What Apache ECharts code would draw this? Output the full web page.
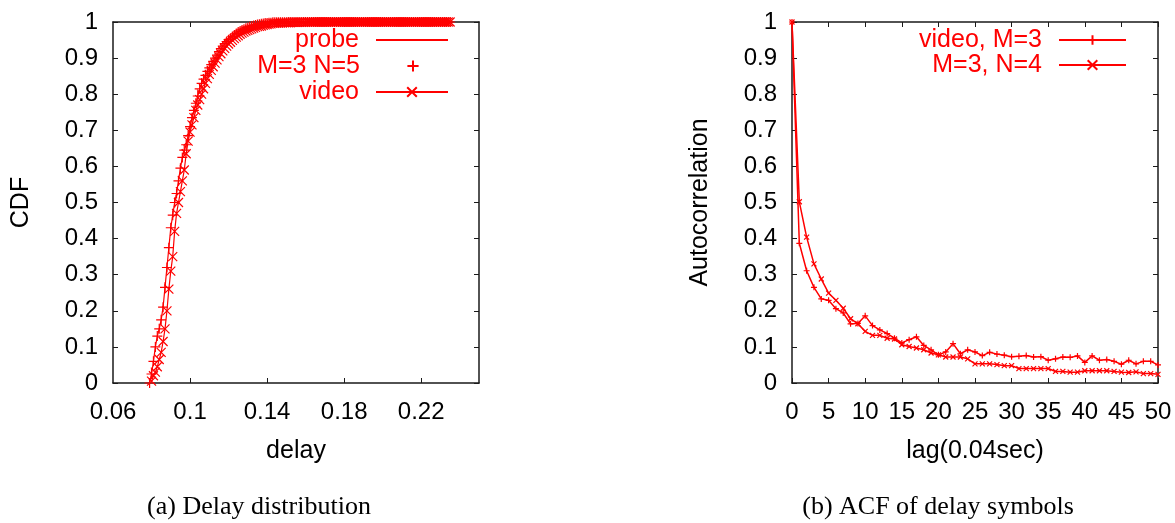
<!DOCTYPE html>
<html>
<head>
<meta charset="utf-8">
<title>Delay distribution / ACF of delay symbols</title>
<script src="https://cdn.jsdelivr.net/npm/echarts@6/dist/echarts.min.js"></script>
<style>
html, body { margin: 0; padding: 0; background: #ffffff; }
#chart { width: 1175px; height: 523px; }
</style>
</head>
<body>
<div id="chart"></div>
<script>
// (a) delay CDF, one bin per ms
const delays = [
  0.079, 0.080, 0.081, 0.082, 0.083, 0.084, 0.085, 0.086, 0.087, 0.088,
  0.089, 0.090, 0.091, 0.092, 0.093, 0.094, 0.095, 0.096, 0.097, 0.098,
  0.099, 0.100, 0.101, 0.102, 0.103, 0.104, 0.105, 0.106, 0.107, 0.108,
  0.109, 0.110, 0.111, 0.112, 0.113, 0.114, 0.115, 0.116, 0.117, 0.118,
  0.119, 0.120, 0.121, 0.122, 0.123, 0.124, 0.125, 0.126, 0.127, 0.128,
  0.129, 0.130, 0.131, 0.132, 0.133, 0.134, 0.135, 0.136, 0.137, 0.138,
  0.139, 0.140, 0.141, 0.142, 0.143, 0.144, 0.145, 0.146, 0.147, 0.148,
  0.149, 0.150, 0.151, 0.152, 0.153, 0.154, 0.155, 0.156, 0.157, 0.158,
  0.159, 0.160, 0.161, 0.162, 0.163, 0.164, 0.165, 0.166, 0.167, 0.168,
  0.169, 0.170, 0.171, 0.172, 0.173, 0.174, 0.175, 0.176, 0.177, 0.178,
  0.179, 0.180, 0.181, 0.182, 0.183, 0.184, 0.185, 0.186, 0.187, 0.188,
  0.189, 0.190, 0.191, 0.192, 0.193, 0.194, 0.195, 0.196, 0.197, 0.198,
  0.199, 0.200, 0.201, 0.202, 0.203, 0.204, 0.205, 0.206, 0.207, 0.208,
  0.209, 0.210, 0.211, 0.212, 0.213, 0.214, 0.215, 0.216, 0.217, 0.218,
  0.219, 0.220, 0.221, 0.222, 0.223, 0.224, 0.225, 0.226, 0.227, 0.228,
  0.229, 0.230, 0.231, 0.232, 0.233, 0.234, 0.235
];
const probeCdf = [
  0, 0.025, 0.06, 0.10, 0.13, 0.15, 0.175, 0.21, 0.265, 0.32,
  0.375, 0.43, 0.465, 0.50, 0.525, 0.56, 0.595, 0.625, 0.645, 0.66,
  0.685, 0.71, 0.735, 0.755, 0.775, 0.795, 0.815, 0.83, 0.842, 0.852,
  0.863, 0.873, 0.882, 0.891, 0.90, 0.908, 0.918, 0.926, 0.933, 0.94,
  0.946, 0.951, 0.955, 0.96, 0.964, 0.968, 0.972, 0.975, 0.978, 0.98,
  0.983, 0.985, 0.987, 0.989, 0.99, 0.992, 0.993, 0.994, 0.995, 0.996,
  0.997, 0.997, 0.998, 0.998, 0.999, 0.999, 0.999, 0.999, 0.999, 0.999,
  0.999, 0.999, 1, 1, 1, 1, 1, 1, 1, 1,
  1, 1, 1, 1, 1, 1, 1, 1, 1, 1,
  1, 1, 1, 1, 1, 1, 1, 1, 1, 1,
  1, 1, 1, 1, 1, 1, 1, 1, 1, 1,
  1, 1, 1, 1, 1, 1, 1, 1, 1, 1,
  1, 1, 1, 1, 1, 1, 1, 1, 1, 1,
  1, 1, 1, 1, 1, 1, 1, 1, 1, 1,
  1, 1, 1, 1, 1, 1, 1, 1, 1, 1,
  1, 1, 1, 1, 1, 1, 1
];
// the M=3 N=5 points sit on the probe line
const m3n5Cdf = probeCdf;
const videoCdf = [
  null, 0.005, 0.02, 0.03, 0.045, 0.065, 0.085, 0.115, 0.15, 0.20,
  0.26, 0.31, 0.35, 0.42, 0.47, 0.50, 0.53, 0.56, 0.59, 0.635,
  0.67, 0.695, 0.715, 0.735, 0.755, 0.77, 0.785, 0.80, 0.815, 0.83,
  0.843, 0.855, 0.866, 0.876, 0.886, 0.895, 0.904, 0.912, 0.92, 0.927,
  0.933, 0.939, 0.944, 0.949, 0.954, 0.958, 0.962, 0.966, 0.969, 0.972,
  0.975, 0.977, 0.979, 0.981, 0.983, 0.985, 0.987, 0.988, 0.989, 0.991,
  0.992, 0.993, 0.994, 0.995, 0.996, 0.996, 0.997, 0.997, 0.998, 0.998,
  0.998, 0.998, 0.998, 0.998, 0.999, 0.999, 0.999, 0.999, 0.999, 0.999,
  0.999, 0.999, 1, 1, 1, 1, 1, 1, 1, 1,
  1, 1, 1, 1, 1, 1, 1, 1, 1, 1,
  1, 1, 1, 1, 1, 1, 1, 1, 1, 1,
  1, 1, 1, 1, 1, 1, 1, 1, 1, 1,
  1, 1, 1, 1, 1, 1, 1, 1, 1, 1,
  1, 1, 1, 1, 1, 1, 1, 1, 1, 1,
  1, 1, 1, 1, 1, 1, 1, 1, 1, 1,
  1, 1, 1, 1, 1, 1, 1
];
const delayTicks = [0.06, 0.1, 0.14, 0.18, 0.22];

// (b) autocorrelation vs lag
const lags = [
  0, 1, 2, 3, 4, 5, 6, 7, 8, 9, 10, 11, 12, 13, 14, 15, 16, 17, 18, 19, 20,
  21, 22, 23, 24, 25, 26, 27, 28, 29, 30, 31, 32, 33, 34, 35, 36, 37, 38, 39, 40,
  41, 42, 43, 44, 45, 46, 47, 48, 49, 50
];
const videoM3Acf = [
  1.0, 0.387, 0.311, 0.265, 0.233, 0.229, 0.206, 0.194, 0.164, 0.165, 0.186,
  0.159, 0.147, 0.137, 0.124, 0.111, 0.120, 0.128, 0.104, 0.092, 0.078,
  0.086, 0.109, 0.081, 0.092, 0.086, 0.076, 0.085, 0.080, 0.077, 0.073,
  0.074, 0.076, 0.072, 0.073, 0.063, 0.067, 0.072, 0.071, 0.075, 0.057,
  0.075, 0.063, 0.065, 0.060, 0.052, 0.063, 0.053, 0.060, 0.060, 0.050
];
const m3n4Acf = [
  1.0, 0.502, 0.404, 0.330, 0.288, 0.249, 0.229, 0.207, 0.178, 0.164, 0.143,
  0.132, 0.132, 0.124, 0.122, 0.106, 0.101, 0.097, 0.092, 0.083, 0.078,
  0.072, 0.072, 0.072, 0.067, 0.053, 0.053, 0.053, 0.051, 0.048, 0.048,
  0.040, 0.040, 0.040, 0.040, 0.040, 0.032, 0.032, 0.030, 0.030, 0.034,
  0.034, 0.034, 0.034, 0.032, 0.030, 0.029, 0.031, 0.026, 0.026, 0.024
];

const RED = '#ff0000';
const INK = '#1a1a1a';
const SANS = '"Liberation Sans", Arial, sans-serif';
const SERIF = '"Liberation Serif", "Times New Roman", serif';
const PLUS = 'path://M0,5L10,5M5,0L5,10';
const CROSS = 'path://M0,0L10,10M10,0L0,10';

function pairs(xs, ys) {
  return xs.map((x, i) => [x, ys[i]]);
}

const boxLine = { show: true, onZero: false, lineStyle: { color: INK, width: 1.5 } };
const tickIn = { show: true, inside: true, length: 5, lineStyle: { color: INK, width: 1 } };
const tickLabel = { color: '#000', fontFamily: SANS, fontSize: 24 };
const nameFont = { color: '#000', fontFamily: SANS, fontSize: 25 };

// bottom/left axis carries labels, top/right mirror just draws the box + ticks
function xAxes(grid, min, max, extra, name) {
  const main = Object.assign({
    type: 'value', gridIndex: grid, position: 'bottom', min: min, max: max,
    axisLine: boxLine, splitLine: { show: false },
    axisTick: Object.assign({}, tickIn),
    axisLabel: Object.assign({ margin: 17 }, tickLabel),
    name: name, nameLocation: 'middle', nameGap: 56, nameTextStyle: nameFont
  }, extra.main);
  const mirror = Object.assign({
    type: 'value', gridIndex: grid, position: 'top', min: min, max: max,
    axisLine: boxLine, splitLine: { show: false },
    axisTick: Object.assign({}, tickIn), axisLabel: { show: false }
  }, extra.mirror);
  return [main, mirror];
}

function yAxes(grid, name) {
  return [{
    type: 'value', gridIndex: grid, position: 'left', min: 0, max: 1, interval: 0.1,
    axisLine: boxLine, splitLine: { show: false }, axisTick: tickIn,
    axisLabel: Object.assign({ margin: 15 }, tickLabel),
    name: name, nameLocation: 'middle', nameRotate: 90, nameGap: 79, nameTextStyle: nameFont
  }, {
    type: 'value', gridIndex: grid, position: 'right', min: 0, max: 1, interval: 0.1,
    axisLine: boxLine, splitLine: { show: false }, axisTick: tickIn, axisLabel: { show: false }
  }];
}

function legendAt(item, right, top, width, iconH) {
  return {
    data: [item], right: right, top: top, orient: 'vertical', align: 'right',
    padding: 0, itemWidth: width, itemHeight: iconH || 12, selectedMode: false,
    textStyle: { color: RED, fontFamily: SANS, fontSize: 25, lineHeight: 26, padding: [0, 12, 0, 0] }
  };
}

const markStyle = { color: 'none', borderColor: RED, borderWidth: 1.2 };

const delayTickCustom = { customValues: [0.1, 0.14, 0.18, 0.22] };

const option = {
  animation: false,
  backgroundColor: '#ffffff',
  grid: [
    { left: 113, right: 696, top: 22, bottom: 140 },
    { left: 792, right: 17, top: 22, bottom: 140 }
  ],
  xAxis: [].concat(
    xAxes(0, 0.06, 0.25, {
      main: {
        axisTick: Object.assign({}, tickIn, delayTickCustom),
        axisLabel: Object.assign({ margin: 17, customValues: delayTicks }, tickLabel)
      },
      mirror: { axisTick: Object.assign({}, tickIn, delayTickCustom) }
    }, 'delay'),
    xAxes(1, 0, 50, { main: { interval: 5 }, mirror: { interval: 5 } }, 'lag(0.04sec)')
  ),
  yAxis: [].concat(yAxes(0, 'CDF'), yAxes(1, 'Autocorrelation')),
  legend: [
    // probe is a plain line, hide the marker in its key
    legendAt({ name: 'probe', itemStyle: { opacity: 0 } }, 726, 27, 72),
    legendAt('M=3 N=5', 726, 53, 72, 14),
    legendAt('video', 726, 79, 72),
    legendAt('video, M=3', 48, 27, 67),
    legendAt('M=3, N=4', 48, 52, 67)
  ],
  series: [
    {
      name: 'probe', type: 'line', xAxisIndex: 0, yAxisIndex: 0,
      data: pairs(delays, probeCdf), symbol: 'none',
      lineStyle: { color: RED, width: 1.2 }, itemStyle: { color: RED }
    },
    {
      // points only: drawn as a line series with an invisible line so the key centres the marker
      name: 'M=3 N=5', type: 'line', xAxisIndex: 0, yAxisIndex: 0,
      data: pairs(delays, m3n5Cdf), symbol: PLUS, symbolSize: 10, showAllSymbol: true,
      lineStyle: { color: RED, width: 0, opacity: 0 }, itemStyle: markStyle
    },
    {
      name: 'video', type: 'line', xAxisIndex: 0, yAxisIndex: 0,
      data: pairs(delays, videoCdf), symbol: CROSS, symbolSize: 9, showAllSymbol: true,
      lineStyle: { color: RED, width: 1.2 }, itemStyle: markStyle
    },
    {
      name: 'video, M=3', type: 'line', xAxisIndex: 2, yAxisIndex: 2,
      data: pairs(lags, videoM3Acf), symbol: PLUS, symbolSize: 6, showAllSymbol: true,
      lineStyle: { color: RED, width: 1.5 }, itemStyle: markStyle
    },
    {
      name: 'M=3, N=4', type: 'line', xAxisIndex: 2, yAxisIndex: 2,
      data: pairs(lags, m3n4Acf), symbol: CROSS, symbolSize: 5, showAllSymbol: true,
      lineStyle: { color: RED, width: 1.5 }, itemStyle: markStyle
    }
  ],
  graphic: [
    {
      type: 'text', x: 259, y: 507,
      style: { text: '(a) Delay distribution', fill: '#000', fontFamily: SERIF, fontSize: 26, align: 'center', verticalAlign: 'middle' }
    },
    {
      type: 'text', x: 938, y: 507,
      style: { text: '(b) ACF of delay symbols', fill: '#000', fontFamily: SERIF, fontSize: 26, align: 'center', verticalAlign: 'middle' }
    }
  ]
};

const chart = echarts.init(document.getElementById('chart'));
chart.setOption(option);
window.addEventListener('resize', () => chart.resize());
</script>
</body>
</html>
